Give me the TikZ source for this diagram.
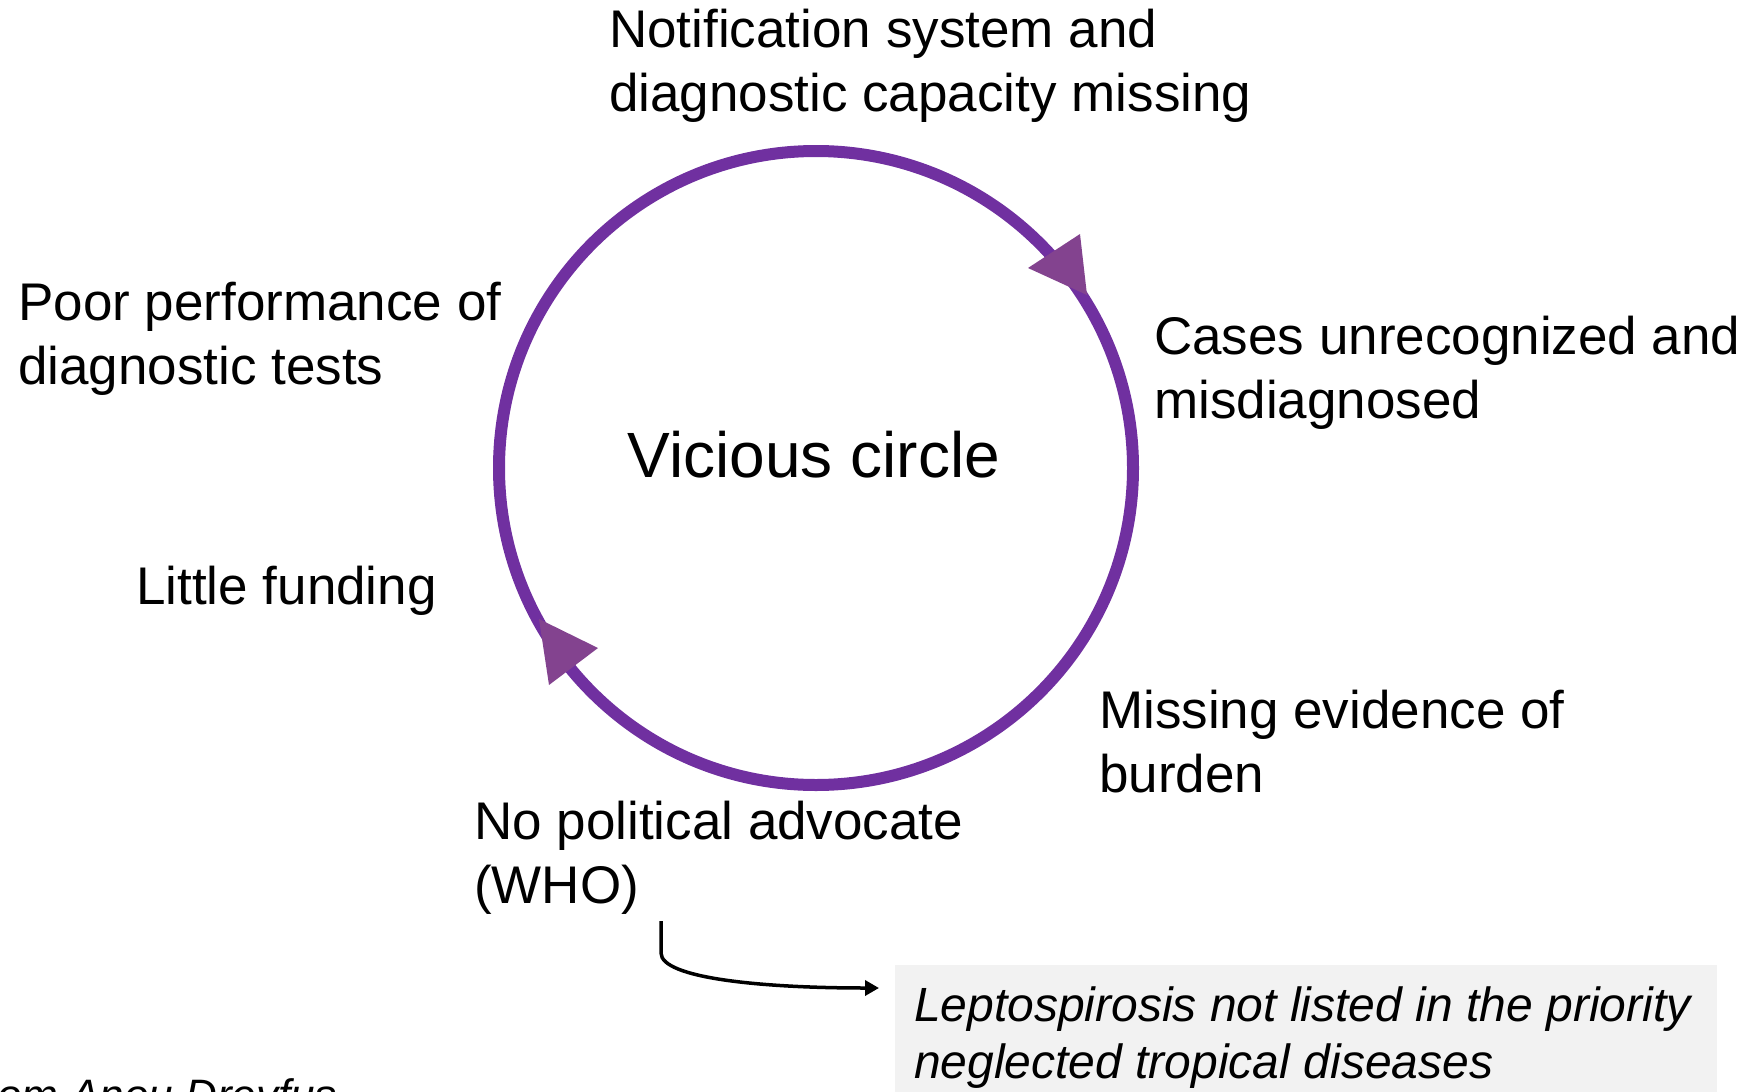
\documentclass[tikz,border=0pt]{standalone}
\usepackage{fontspec}
\setmainfont{Liberation Sans}
\usetikzlibrary{arrows.meta}
\definecolor{circpurple}{HTML}{7030A0}
\definecolor{headpurple}{HTML}{83438F}
\definecolor{boxgrey}{HTML}{F2F2F2}
\begin{document}
\begin{tikzpicture}[x=1pt,y=-1pt,
  lbl/.style={anchor=north west, inner sep=0pt, align=left, font=\fontsize{53}{64}\selectfont},
  headtri/.style={fill=headpurple, draw=none},
  conn/.style={line width=3.5pt, -{Triangle[length=14pt,width=15pt]}}]
\useasboundingbox (0,0) rectangle (1749,1092);
\clip (0,0) rectangle (1749,1092);
% cycle circle
\coordinate (c) at (816,468);
\draw[circpurple, line width=12pt] (c) circle[radius=317];
% arrow heads
\coordinate (t1) at (1087,295);
\coordinate (b1a) at (1028,268);
\coordinate (b1b) at (1080,234);
\fill[headtri] (t1) -- (b1a) -- (b1b) -- cycle;
\coordinate (t2) at (539,619);
\coordinate (b2a) at (598,648);
\coordinate (b2b) at (549,685);
\fill[headtri] (t2) -- (b2a) -- (b2b) -- cycle;
% center
\node[anchor=base, inner sep=0pt, font=\fontsize{64}{76}\selectfont] (vc) at (814,477) {Vicious circle};
% labels
\node[lbl] (notif) at (609,9) {Notification system and\\diagnostic capacity missing};
\node[lbl] (poor) at (18,282) {Poor performance of\\diagnostic tests};
\node[lbl] (cases) at (1154,316) {Cases unrecognized and\\misdiagnosed};
\node[lbl] (little) at (136,566) {Little funding};
\node[lbl] (missing) at (1099,690) {Missing evidence of\\burden};
\node[lbl] (nopol) at (474,801) {No political advocate\\(WHO)};
% grey box
\node[anchor=north west, fill=boxgrey, inner sep=0pt, minimum width=822pt, minimum height=140pt] (leptobox) at (895,965) {};
\node[anchor=north west, inner sep=0pt, align=left,
      font=\fontsize{48}{57}\selectfont\itshape] (lepto) at (914,987)
  {Leptospirosis not listed in the priority\\neglected tropical diseases};
% connector
\coordinate (cs) at (661,921);
\coordinate (ce) at (879,988);
\draw[conn] (cs) -- ++(0,32) .. controls (661,978) and (760,988) .. (ce);
% source
\node[anchor=base west, inner sep=0pt, font=\fontsize{44}{50}\selectfont\itshape] (src) at (-30,1110) {from Anou Dreyfus};
\end{tikzpicture}
\end{document}
